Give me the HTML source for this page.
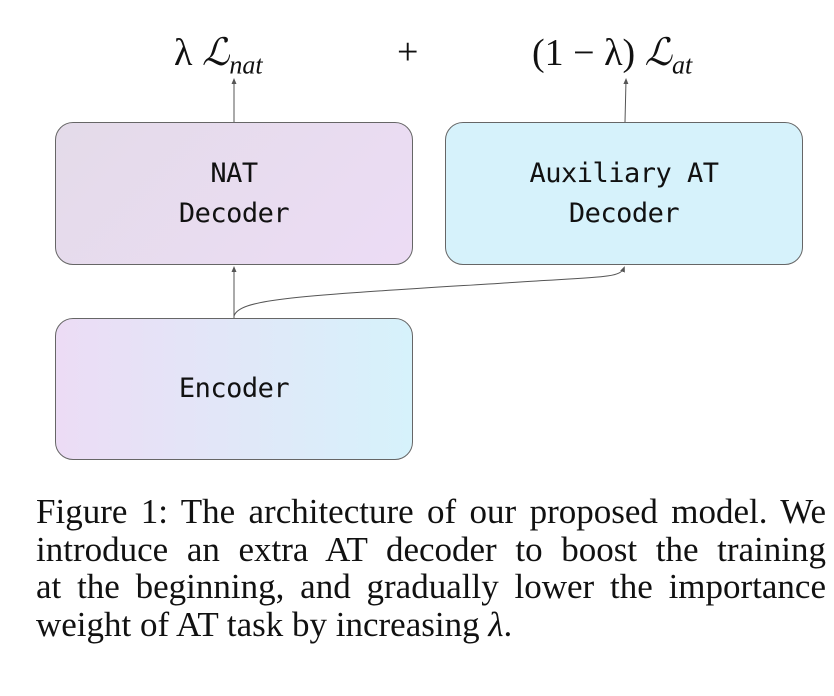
<!DOCTYPE html>
<html><head><meta charset="utf-8"><style>
html,body{margin:0;padding:0;background:#fff;width:834px;height:696px;overflow:hidden;position:relative}
.box{position:absolute;border:1.3px solid #666;border-radius:18px;box-sizing:border-box;display:flex;align-items:center;justify-content:center;text-align:center;font-family:"DejaVu Sans Mono","Liberation Mono",monospace;font-size:27px;line-height:40px;color:#111;letter-spacing:-0.5px}
.f{position:absolute;font-family:"Liberation Serif",serif;font-size:38px;color:#111;white-space:nowrap}
.cap{position:absolute;left:36px;width:790px;top:493px;font-family:"Liberation Serif",serif;font-size:35px;line-height:37.5px;color:#111}
.cap div{text-align:justify;text-align-last:justify;white-space:nowrap}
.cap div.last{text-align-last:left}
</style></head><body>
<svg width="834" height="696" style="position:absolute;left:0;top:0">
<defs><marker id="a" markerWidth="8" markerHeight="8" refX="4" refY="4" orient="auto"><path d="M0,1.5 L6,4 L0,6.5z" fill="#555"/></marker></defs>
<line x1="234" y1="122" x2="234" y2="80" stroke="#555" stroke-width="1" marker-end="url(#a)"/>
<line x1="625" y1="122" x2="626" y2="80" stroke="#555" stroke-width="1" marker-end="url(#a)"/>
<line x1="234" y1="318" x2="234" y2="268" stroke="#555" stroke-width="1" marker-end="url(#a)"/>
<path d="M234,316 C240,298 300,296 520,282 C600,277 620,278 624,268" fill="none" stroke="#555" stroke-width="1" marker-end="url(#a)"/>
</svg>
<div class="f" style="left:174px;top:30px">λ <i>ℒ</i><sub style="font-size:26px;font-style:italic">nat</sub></div>
<div class="f" style="left:397px;top:30px">+</div>
<div class="f" style="left:532px;top:30px">(1 − λ) <i>ℒ</i><sub style="font-size:26px;font-style:italic">at</sub></div>
<div class="box" style="left:55px;top:122px;width:358px;height:143px;background:linear-gradient(135deg,#e4dbe9,#ecdcf5)">NAT<br>Decoder</div>
<div class="box" style="left:445px;top:122px;width:358px;height:143px;background:#d6f2fb">Auxiliary AT<br>Decoder</div>
<div class="box" style="left:55px;top:318px;width:358px;height:142px;background:linear-gradient(90deg,#ecdcf5,#d6f2fb)">Encoder</div>
<div class="cap">
<div>Figure 1: The architecture of our proposed model. We</div>
<div>introduce an extra AT decoder to boost the training</div>
<div>at the beginning, and gradually lower the importance</div>
<div class="last">weight of AT task by increasing <i>λ</i>.</div>
</div>
</body></html>
